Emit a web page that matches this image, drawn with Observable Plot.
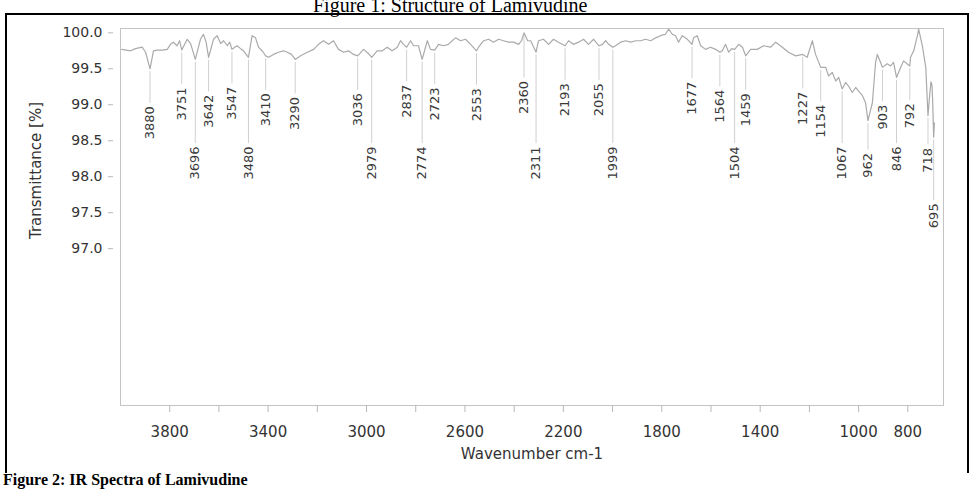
<!DOCTYPE html>
<html>
<head>
<meta charset="utf-8">
<script src="https://cdn.jsdelivr.net/npm/d3@7"></script>
<script src="https://cdn.jsdelivr.net/npm/@observablehq/plot@0.6"></script>
<style>
  body { margin: 0; width: 970px; height: 492px; position: relative; overflow: hidden; background: #fff; }
  #title { position: absolute; left: 313px; top: -5px; font: 20px/20px "Liberation Serif", serif; color: #000; white-space: nowrap; }
  #box { position: absolute; left: 5px; top: 13px; width: 960px; height: 458px; border: 2px solid #000; border-bottom: none; pointer-events: none; }
  #chart { position: absolute; left: 0; top: 0; }
  #caption { position: absolute; left: 3px; top: 472px; font: bold 16px/16px "Liberation Serif", serif; color: #000; white-space: nowrap; }
</style>
</head>
<body>
<div id="title">Figure 1: Structure of Lamivudine</div>
<div id="chart"></div>
<div id="box"></div>
<div id="caption">Figure 2: IR Spectra of Lamivudine</div>
<script>
// IR spectrum of lamivudine: wavenumber (cm-1) and transmittance (%)
const wavenumber = [
  3995, 3959, 3939, 3912, 3898, 3880, 3866, 3851, 3830, 3810, 3797, 3785, 3770, 3760, 3751,
  3729, 3715, 3696, 3675, 3663, 3652, 3642, 3622, 3607, 3593, 3581, 3566, 3556, 3547, 3526,
  3512, 3500, 3480, 3465, 3451, 3439, 3422, 3410, 3398, 3378, 3358, 3337, 3322, 3305, 3290,
  3268, 3241, 3215, 3195, 3175, 3154, 3134, 3114, 3093, 3073, 3053, 3036, 3012, 2995, 2979,
  2957, 2936, 2916, 2896, 2875, 2862, 2850, 2837, 2821, 2809, 2789, 2774, 2753, 2740, 2723,
  2707, 2687, 2667, 2659, 2638, 2618, 2598, 2577, 2553, 2545, 2524, 2504, 2484, 2463, 2443,
  2423, 2402, 2382, 2370, 2360, 2345, 2333, 2311, 2301, 2281, 2260, 2240, 2220, 2193, 2179,
  2159, 2138, 2118, 2098, 2077, 2055, 2041, 2028, 2016, 1999, 1988, 1967, 1947, 1927, 1906,
  1886, 1866, 1845, 1825, 1805, 1785, 1772, 1757, 1744, 1732, 1717, 1696, 1677, 1671, 1656,
  1642, 1622, 1602, 1581, 1564, 1554, 1541, 1528, 1516, 1504, 1487, 1472, 1459, 1439, 1412,
  1386, 1358, 1337, 1310, 1285, 1256, 1227, 1209, 1188, 1175, 1154, 1134, 1122, 1107, 1093,
  1081, 1067, 1053, 1041, 1026, 1012, 1000, 985, 972, 962, 944, 931, 924, 911, 903,
  884, 870, 858, 846, 829, 817, 800, 792, 789, 776, 761, 756, 741, 727, 718,
  712, 706, 702, 699, 695, 692
];
const transmittance = [
  99.77, 99.75, 99.78, 99.80, 99.73, 99.50, 99.75, 99.76, 99.76, 99.77, 99.84, 99.87, 99.82, 99.89, 99.76,
  99.91, 99.85, 99.63, 99.91, 99.98, 99.87, 99.66, 99.91, 99.96, 99.85, 99.89, 99.82, 99.87, 99.77, 99.82,
  99.78, 99.75, 99.66, 99.96, 99.93, 99.80, 99.74, 99.68, 99.66, 99.70, 99.73, 99.75, 99.73, 99.70, 99.63,
  99.68, 99.73, 99.77, 99.84, 99.89, 99.84, 99.89, 99.77, 99.73, 99.75, 99.70, 99.68, 99.77, 99.72, 99.66,
  99.75, 99.75, 99.80, 99.75, 99.80, 99.89, 99.84, 99.80, 99.89, 99.82, 99.82, 99.63, 99.89, 99.77, 99.76,
  99.84, 99.82, 99.84, 99.87, 99.93, 99.89, 99.91, 99.84, 99.75, 99.80, 99.89, 99.91, 99.87, 99.91, 99.89,
  99.87, 99.87, 99.84, 99.89, 100.00, 99.89, 99.89, 99.73, 99.89, 99.91, 99.84, 99.91, 99.87, 99.82, 99.89,
  99.84, 99.87, 99.91, 99.84, 99.91, 99.82, 99.84, 99.89, 99.84, 99.80, 99.82, 99.87, 99.89, 99.87, 99.89,
  99.89, 99.91, 99.89, 99.93, 99.96, 99.98, 100.05, 99.98, 99.96, 99.87, 99.96, 99.91, 99.84, 99.93, 99.96,
  99.82, 99.77, 99.80, 99.77, 99.73, 99.75, 99.84, 99.73, 99.78, 99.77, 99.84, 99.80, 99.68, 99.77, 99.77,
  99.82, 99.80, 99.87, 99.80, 99.73, 99.68, 99.70, 99.66, 99.89, 99.70, 99.52, 99.52, 99.40, 99.45, 99.33,
  99.38, 99.22, 99.31, 99.26, 99.17, 99.24, 99.19, 99.13, 99.03, 98.78, 99.03, 99.59, 99.70, 99.59, 99.52,
  99.57, 99.54, 99.59, 99.38, 99.52, 99.61, 99.56, 99.54, 99.66, 99.75, 99.96, 100.05, 99.82, 99.52, 98.85,
  99.10, 99.32, 99.28, 99.05, 98.55, 98.75
];

// Labelled peaks and the label row each one is printed in
const peakWavenumbers = [
  3880, 3751, 3696, 3642, 3547, 3480, 3410, 3290, 3036, 2979, 2837, 2774, 2723, 2553, 2360,
  2311, 2193, 2055, 1999, 1677, 1564, 1504, 1459, 1227, 1154, 1067, 962, 903, 846, 792, 718, 695
];
const peakRow = [
  1, 1, 2, 1, 1, 2, 1, 1, 1, 2, 1, 2, 1, 1, 1,
  2, 1, 1, 2, 1, 1, 2, 1, 1, 1, 2, 2, 1, 2, 1, 2, 3
];

// Axis ticks
const xTickValues = [3800, 3600, 3400, 3200, 3000, 2800, 2600, 2400, 2200, 2000, 1800, 1600, 1400, 1200, 1000, 800];
const xTickLabels = [3800, 3400, 3000, 2600, 2200, 1800, 1400, 1000, 800];
const yTickValues = [97.0, 97.5, 98.0, 98.5, 99.0, 99.5, 100.0];

const spectrum = wavenumber.map((w, i) => ({w, t: transmittance[i]}));
const tAt = new Map(spectrum.map(d => [d.w, d.t]));

// Each label hangs below its peak, but no higher than the top of its row
const rowTop = {1: 99.33, 2: 98.42, 3: 97.63};
const rowGap = {1: 0.52, 2: 0.45, 3: 0.45};
const peaks = peakWavenumbers.map((w, i) => {
  const t = tAt.get(w);
  const row = peakRow[i];
  return {w, t, anchor: Math.min(t - rowGap[row], rowTop[row])};
});

const chart = Plot.plot({
  width: 970,
  height: 470,
  marginLeft: 120,
  marginRight: 27,
  marginTop: 28,
  marginBottom: 65,
  style: {fontFamily: "'DejaVu Sans', sans-serif", background: "transparent", color: "#333"},
  x: {domain: [4000, 655]},
  y: {domain: [94.82, 100.06]},
  marks: [
    Plot.frame({stroke: "#c4c4c4"}),
    Plot.axisX({
      ticks: xTickValues,
      tickFormat: d => xTickLabels.includes(d) ? String(d) : "",
      tickSize: 7, tickPadding: 14, fontSize: 15,
      stroke: "#b8b8b8", fill: "#333", label: null
    }),
    Plot.axisY({
      ticks: yTickValues,
      tickFormat: d3.format(".1f"),
      tickSize: 5, tickPadding: 6, dx: -7, fontSize: 14,
      stroke: "#b8b8b8", fill: "#333", label: null
    }),
    Plot.ruleX(peaks, {x: "w", y1: d => d.t - 0.04, y2: d => d.anchor + 0.04, stroke: "#d0d0d0", strokeWidth: 1}),
    Plot.line(spectrum, {x: "w", y: "t", stroke: "#aaaaaa", strokeWidth: 1.2}),
    Plot.text(peaks, {x: "w", y: "anchor", text: d => String(d.w), rotate: -90, textAnchor: "end", fontSize: 13, fill: "#3a3a3a"}),
    Plot.text(["Wavenumber cm-1"], {frameAnchor: "bottom", dy: 53, fontSize: 15, fill: "#333"}),
    Plot.text(["Transmittance [%]"], {
      frameAnchor: "top-left", dx: -84, dy: 142, rotate: -90,
      textAnchor: "middle", lineAnchor: "middle", fontSize: 15, fill: "#333"
    })
  ]
});
document.getElementById("chart").appendChild(chart);
</script>
</body>
</html>
